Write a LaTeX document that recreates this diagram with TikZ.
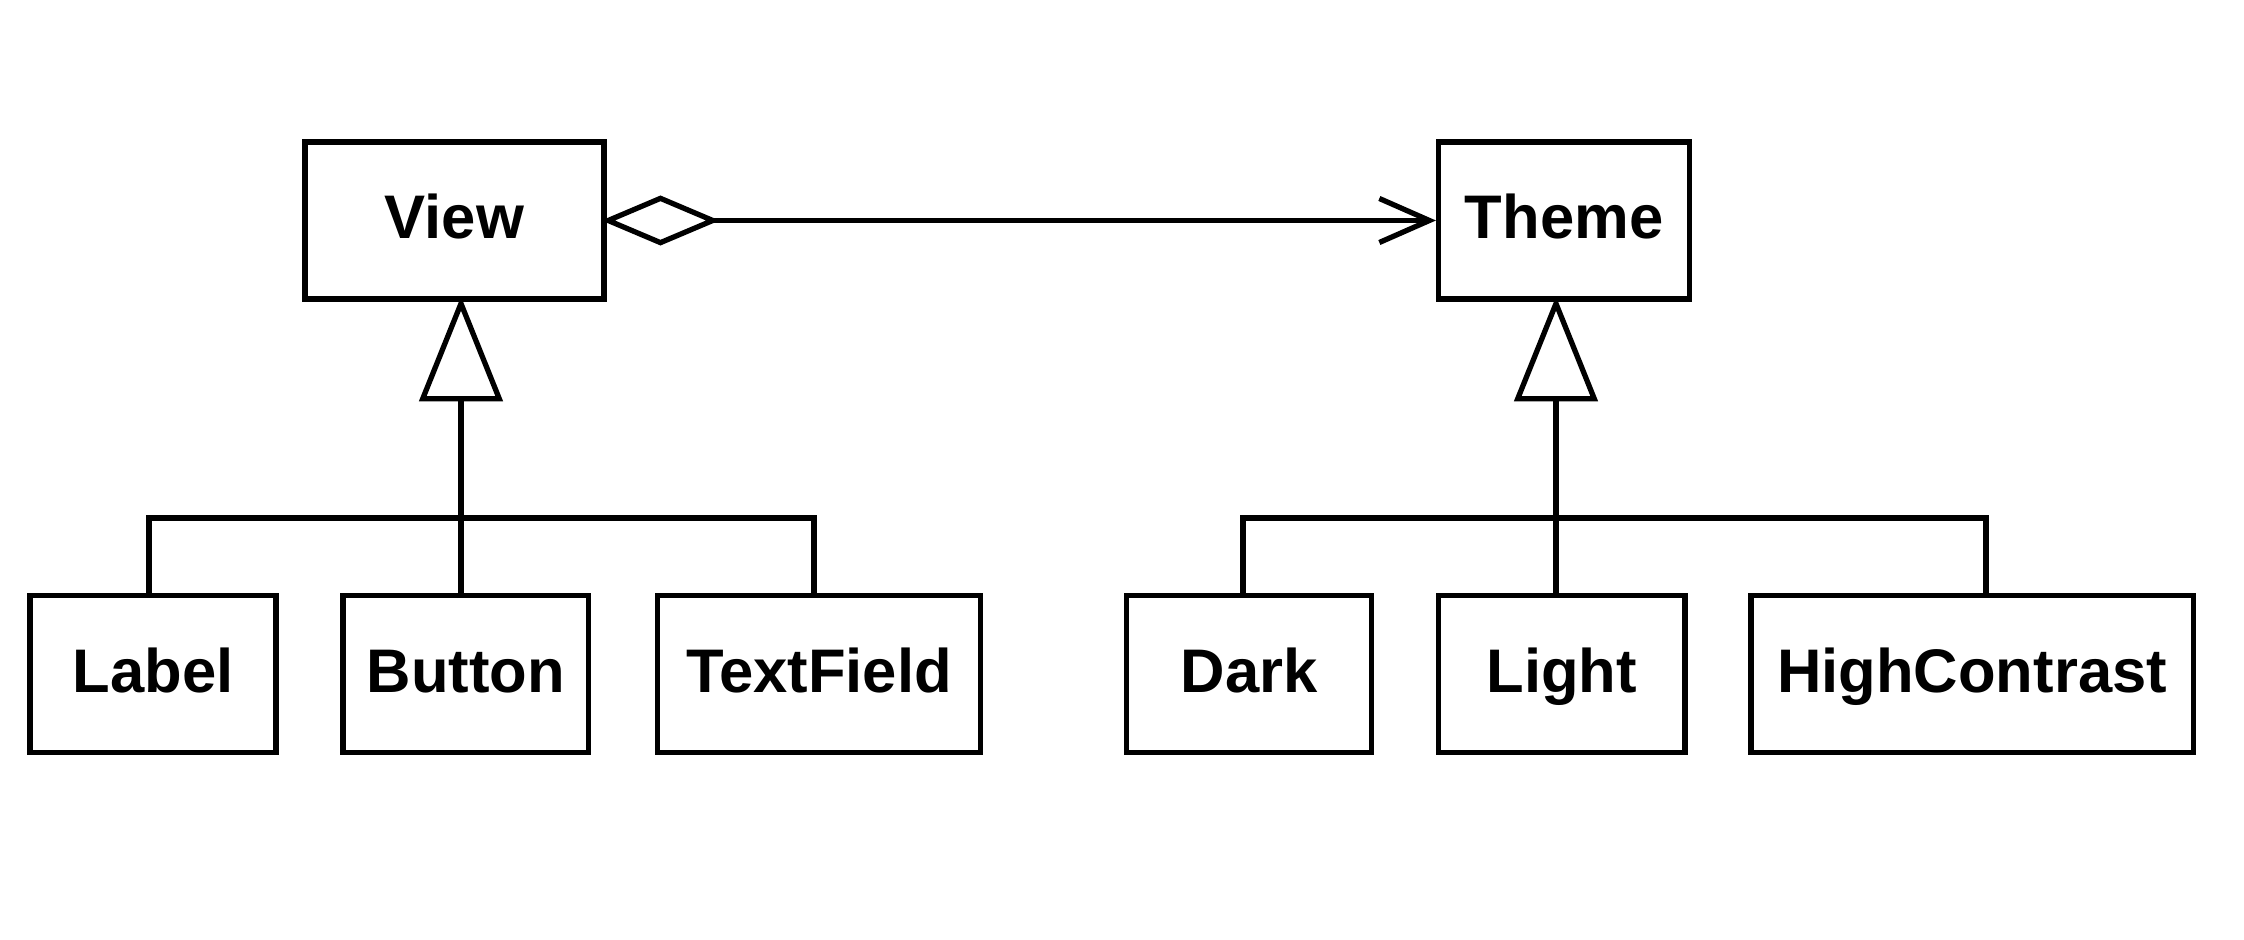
\documentclass[tikz,border=0pt]{standalone}
\usepackage{fontspec}
\setmainfont{Liberation Sans}
\usetikzlibrary{positioning,arrows.meta}

\begin{document}
\begin{tikzpicture}[x=0.01cm, y=-0.01cm, line width=1.5pt, on grid,
        cls/.style = {draw, rectangle, inner sep=0pt, minimum height=1.57cm, text height=10.5pt, text depth=0pt, font=\fontsize{17.5}{21}\selectfont\bfseries},
        gen/.style = {-{Triangle[open, length=1.05cm, width=0.83cm]}, shorten >=-1.5pt},
        agg/.style = {{Diamond[open, length=1.18cm, width=0.5cm]}-{Straight Barb[length=0.5cm, width=0.44cm]}, shorten <=-1.5pt}]
        \useasboundingbox (0,0) rectangle (2244,940);

        \node[cls, minimum width=2.46cm] (label) at (153,674) {Label};
        \node[cls, minimum width=2.45cm] (button) [right=3.125cm of label] {Button};
        \node[cls, minimum width=3.23cm] (textfield) [right=3.53cm of button] {TextField};
        \node[cls, minimum width=2.45cm] (dark) [right=4.30cm of textfield] {Dark};
        \node[cls, minimum width=2.46cm] (light) [right=3.125cm of dark] {Light};
        \node[cls, minimum width=4.42cm] (highcontrast) [right=4.10cm of light] {HighContrast};
        \node[cls, minimum width=2.99cm] (view) at (454.5,220.5) {View};
        \node[cls, minimum width=2.51cm] (theme) [right=11.09cm of view] {Theme};

        \coordinate (vb) at (461,518);
        \coordinate (lb) at (149,518);
        \coordinate (tb) at (814,518);
        \coordinate (thb) at (1556,518);
        \coordinate (db) at (1243,518);
        \coordinate (hb) at (1986,518);

        \draw[agg] (view) -- (theme);

        \draw[gen] (vb) -- (vb |- view.south);
        \draw (lb |- label.north) |- (tb) -- (tb |- textfield.north);
        \draw (vb) -- (vb |- button.north);

        \draw[gen] (thb) -- (thb |- theme.south);
        \draw (db |- dark.north) |- (hb) -- (hb |- highcontrast.north);
        \draw (thb) -- (thb |- light.north);
\end{tikzpicture}
\end{document}
